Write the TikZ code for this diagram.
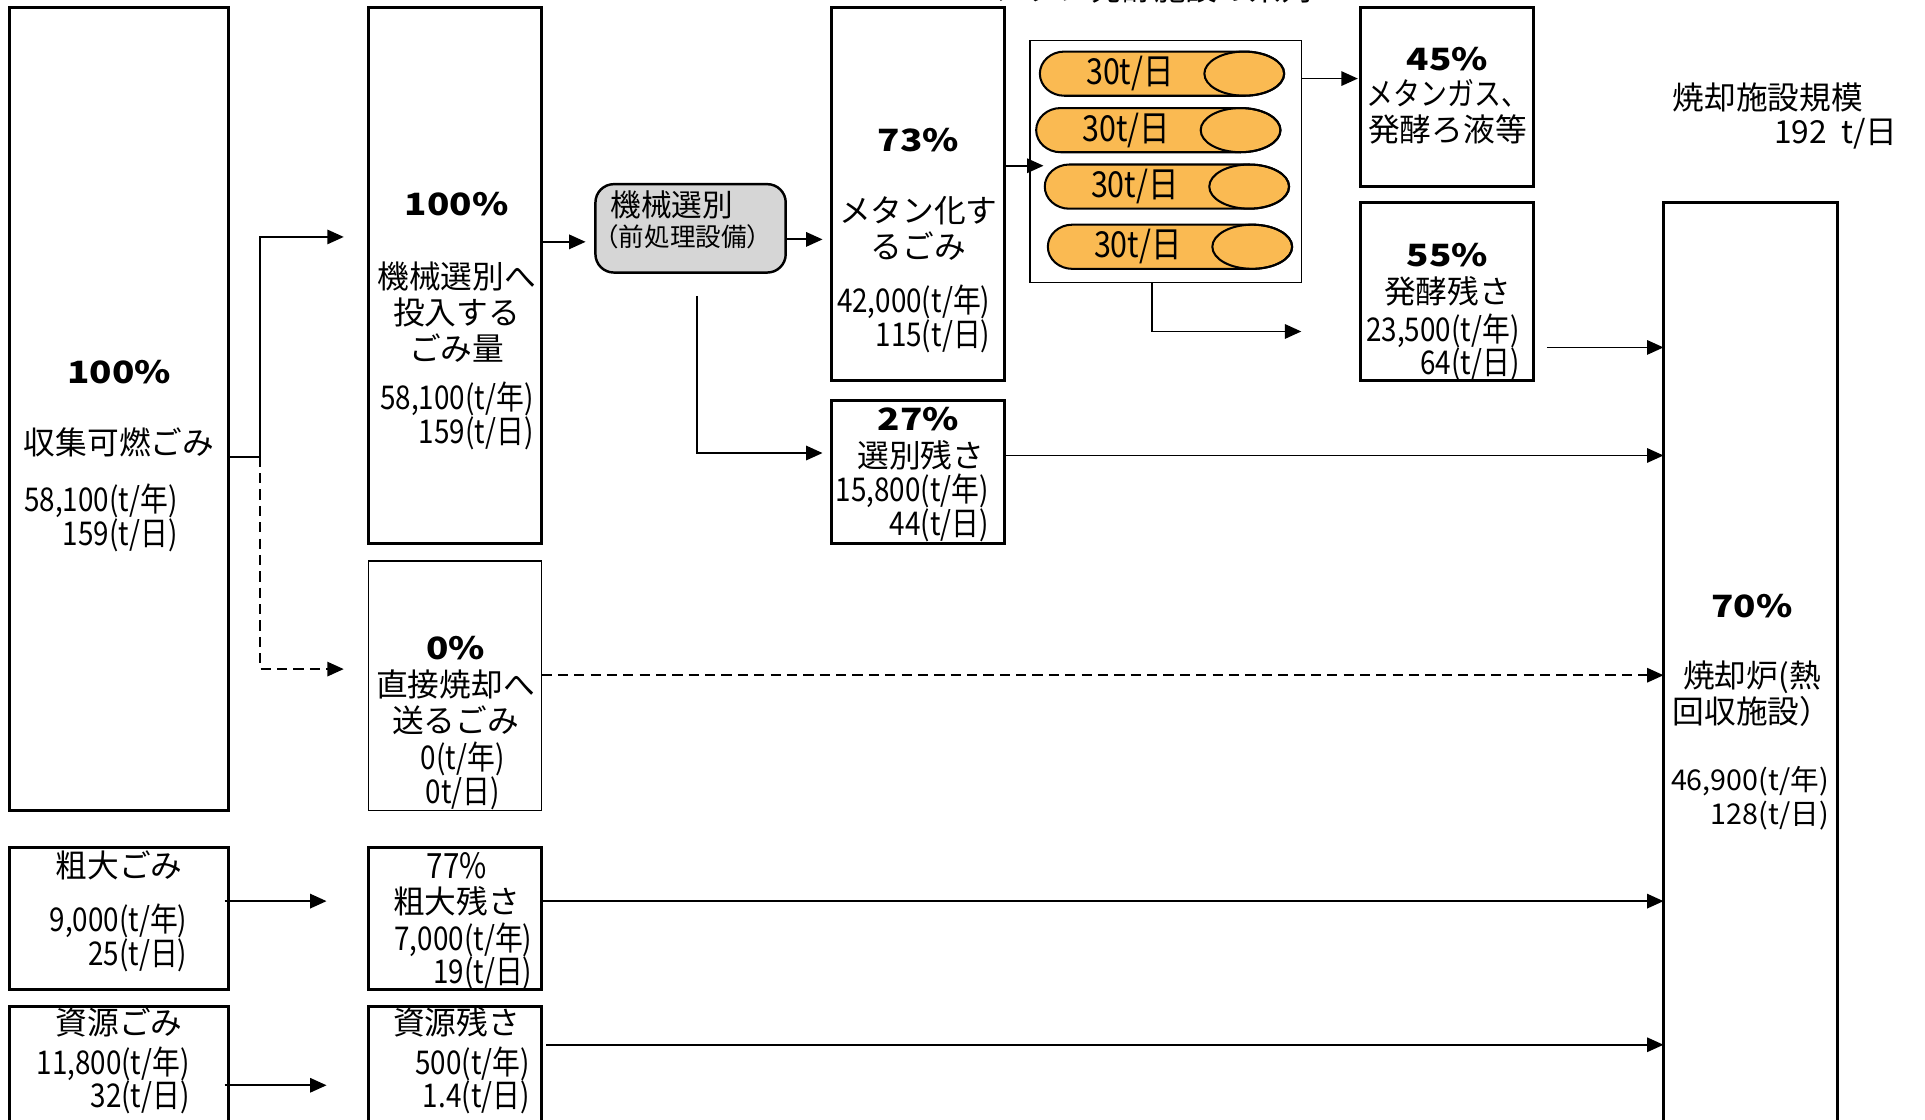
\documentclass[tikz,border=0pt]{standalone}
\usepackage{fontspec}
\setmainfont{Noto Sans CJK JP}
\newfontfamily\numfont[FakeStretch=0.85]{Noto Sans CJK JP}
\newfontfamily\pctfont[FakeStretch=1.2]{Noto Sans CJK JP}
\usepackage{xcolor}
\usepackage{tikz}
\usetikzlibrary{arrows.meta}
\definecolor{tankorange}{RGB}{250,186,82}
\definecolor{sortgray}{RGB}{214,214,214}

\begin{document}
\begin{tikzpicture}[x=0.6pt,y=-0.6pt,
	box/.style={draw,line width=1.5pt,inner sep=0pt,outer sep=0pt},
	thinbox/.style={draw,line width=0.6pt,inner sep=0pt,outer sep=0pt},
	sortbox/.style={draw,line width=1.2pt,rounded corners=9pt,fill=sortgray,inner sep=0pt,outer sep=0pt},
	tank/.pic={
		\draw[line width=1pt,fill=tankorange] (67,-18) -- (-79.5,-18) arc[start angle=270,end angle=90,x radius=20,y radius=18] -- (67,18) arc[start angle=90,end angle=-90,x radius=32.5,y radius=18] -- cycle;
		\draw[line width=1pt] (67,0) ellipse[x radius=32.5,y radius=18];
		\node[font=\numfont\fontsize{17.5}{18}\selectfont] (-lbl) at (-26,0) {30t/日};
	},
	arr/.style={-{Triangle[length=8pt,width=7pt]},line width=0.9pt},
	pct/.style={font=\pctfont\bfseries\fontsize{15}{18}\selectfont},
	lbl/.style={font=\fontsize{15.5}{17.5}\selectfont,align=center},
	num/.style={font=\numfont\fontsize{16}{16.5}\selectfont,align=right,anchor=east,inner sep=0pt}]
						\useasboundingbox (0,0) rectangle (1568,912);
						\clip (0,0) rectangle (1568,912);
						
						\coordinate (sp) at (212,372);
						\coordinate (tB) at (280,193);
						\coordinate (tC) at (280,545);
						\coordinate (tH) at (477,197);
						\coordinate (tI) at (670,195);
						\coordinate (hd) at (568,241);
						\coordinate (tJ) at (670,369);
						\coordinate (tK) at (850,135);
						\coordinate (tL) at (1106,64);
						\coordinate (kd) at (938,230);
						\coordinate (tM) at (1060,270);
						\coordinate (mN) at (1260,283);
						\coordinate (jN) at (818,371);
						\coordinate (cN) at (441,550);
						\coordinate (dF) at (183,734);
						\coordinate (tF) at (266,734);
						\coordinate (fN) at (441,734);
						\coordinate (eG) at (183,884);
						\coordinate (tG) at (266,884);
						\coordinate (gN) at (445,851);
						
						\node[box,minimum width=106.8pt,minimum height=392.4pt] (A) at (97,333) {};
						\node[box,minimum width=84.6pt,minimum height=262.2pt] (B) at (370.5,224.5) {};
						\node[thinbox,minimum width=84.6pt,minimum height=121.8pt] (C) at (370.5,558.5) {};
						\node[box,minimum width=106.8pt,minimum height=69.6pt] (D) at (97,748) {};
						\node[box,minimum width=106.8pt,minimum height=66pt] (E) at (97,875) {};
						\node[box,minimum width=84.6pt,minimum height=69.6pt] (F) at (370.5,748) {};
						\node[box,minimum width=84.6pt,minimum height=66pt] (G) at (370.5,875) {};
						\node[sortbox,minimum width=93pt,minimum height=43.2pt] (H) at (562.5,186) {};
						\node[box,minimum width=84.6pt,minimum height=182.4pt] (I) at (747.5,158) {};
						\node[box,minimum width=84.6pt,minimum height=70.2pt] (J) at (747.5,384.5) {};
						\node[thinbox,minimum width=132.6pt,minimum height=118.2pt] (K) at (949.5,131.5) {};
						\node[box,minimum width=84.6pt,minimum height=87.6pt] (L) at (1178.5,79) {};
						\node[box,minimum width=84.6pt,minimum height=87pt] (M) at (1178.5,237.5) {};
						\node[box,minimum width=85.2pt,minimum height=459pt] (N) at (1426,547.5) {};
						
						\pic (T1) at (946.5,60) {tank};
						\pic (T2) at (943.5,106) {tank};
						\pic (T3) at (950.5,152) {tank};
						\pic (T4) at (953,201) {tank};
						
						\draw[line width=0.9pt] (A.east |- sp) -- (sp);
						\draw[arr] (sp) |- (tB);
						\draw[arr,dashed,dash pattern=on 5pt off 3pt] (sp) |- (tC);
						\draw[arr] (B.east |- tH) -- (tH);
						\draw[arr] (H.east |- tI) -- (tI);
						\draw[arr] (hd) |- (tJ);
						\draw[arr] (I.east |- tK) -- (tK);
						\draw[arr] (K.east |- tL) -- (tL);
						\draw[arr] (kd) |- (tM);
						\draw[arr] (mN) -- (mN -| N.west);
						\draw[arr] (jN) -- (jN -| N.west);
						\draw[arr,dashed,dash pattern=on 5pt off 3pt] (cN) -- (cN -| N.west);
						\draw[arr] (dF) -- (tF);
						\draw[arr] (fN) -- (fN -| N.west);
						\draw[arr] (eG) -- (tG);
						\draw[arr] (gN) -- (gN -| N.west);
						
						\node[lbl] (ttl) at (940,-9) {メタン発酵施設の系列};
						
						\node[pct] (pA) at (97,303) {100\%};
						\node[lbl] (nA) at (97,360) {収集可燃ごみ};
						\node[num] (qA) at (145,422) {58,100(t/年)\\159(t/日)};
						
						\node[pct] (pB) at (372,166) {100\%};
						\node[lbl] (nB) at (372,254) {機械選別へ\\投入する\\ごみ量};
						\node[num] (qB) at (435,339) {58,100(t/年)\\159(t/日)};
						
						\node[pct] (pC) at (371,528) {0\%};
						\node[lbl] (nC) at (371,572) {直接焼却へ\\送るごみ};
						\node[num,align=center,anchor=center] (qC) at (377,632) {0(t/年)\\0t/日)};
						
						\node[lbl] (nD) at (97,705) {粗大ごみ};
						\node[num] (qD) at (153,764) {9,000(t/年)\\25(t/日)};
						
						\node[lbl] (nE) at (97,833) {資源ごみ};
						\node[num] (qE) at (155,880) {11,800(t/年)\\32(t/日)};
						
						\node[lbl,font=\numfont\fontsize{17}{18}\selectfont] (pF) at (372,705) {77\%};
						\node[lbl] (nF) at (372,734) {粗大残さ};
						\node[num] (qF) at (434,779) {7,000(t/年)\\19(t/日)};
						
						\node[lbl] (nG) at (372,833) {資源残さ};
						\node[num] (qG) at (432,880) {500(t/年)\\1.4(t/日)};
						
						\node[anchor=west,inner sep=0pt,font=\fontsize{15}{18}\selectfont] (hA) at (497,167) {機械選別};
						\node[anchor=west,inner sep=0pt,font=\fontsize{12.5}{14}\selectfont] (hB) at (483,193) {（前処理設備）};
						
						\node[pct] (pI) at (748,114) {73\%};
						\node[lbl] (nI) at (748,186) {メタン化す\\るごみ};
						\node[num] (qI) at (807,260) {42,000(t/年)\\115(t/日)};
						
						\node[pct] (pJ) at (748,341) {27\%};
						\node[lbl] (nJ) at (750,371) {選別残さ};
						\node[num] (qJ) at (806,414) {15,800(t/年)\\44(t/日)};
						
						\node[pct] (pL) at (1179,48) {45\%};
						\node[lbl] (nL) at (1179,91) {{\numfont メタンガス、}\\発酵ろ液等};
						
						\node[pct] (pM) at (1179,208) {55\%};
						\node[lbl] (nM) at (1179,237) {発酵残さ};
						\node[num] (qM) at (1238,283) {23,500(t/年)\\64(t/日)};
						
						\node[pct] (pN) at (1427,494) {70\%};
						\node[lbl] (nN) at (1427,565) {焼却炉(熱\\回収施設）};
						\node[num,font=\fontsize{14}{16.5}\selectfont] (qN) at (1490,650) {46,900(t/年)\\128(t/日)};
						
						\node[lbl] (sA) at (1440,79) {焼却施設規模};
						\node[lbl,anchor=east,inner sep=0pt] (sB) at (1546,109) {192\hspace{7pt}t/日};
					\end{tikzpicture}
\end{document}
